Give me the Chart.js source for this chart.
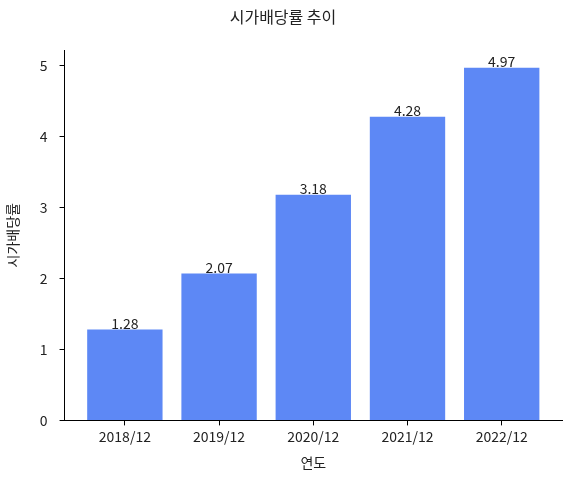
<!DOCTYPE html>
<html><head><meta charset="utf-8">
<script src="https://cdn.jsdelivr.net/npm/chart.js@4"></script>
<style>html,body{margin:0;padding:0;background:#fff}canvas{display:block}</style>
</head><body>
<canvas id="c" width="570" height="479"></canvas>
<script>
const categories = ['2018/12','2019/12','2020/12','2021/12','2022/12'];
const values = [1.28, 2.07, 3.18, 4.28, 4.97];
const yTicks = [0,1,2,3,4,5];
const FONT = "'Noto Sans CJK KR','Noto Sans',sans-serif";
const barColor = '#5d88f5';

const labelPlugin = {
  id: 'barLabels',
  afterDatasetsDraw(chart) {
    const ctx = chart.ctx;
    const meta = chart.getDatasetMeta(0);
    ctx.save();
    ctx.font = '14px ' + FONT;
    ctx.fillStyle = '#222';
    ctx.textAlign = 'center';
    ctx.textBaseline = 'alphabetic';
    meta.data.forEach((bar, i) => {
      ctx.fillText(values[i].toFixed(2), bar.x, bar.y - 1);
    });
    ctx.restore();
  }
};

new Chart(document.getElementById('c'), {
  type: 'bar',
  data: {
    datasets: [{
      data: values.map((v, i) => ({x: i, y: v})),
      backgroundColor: barColor,
      borderWidth: 0,
      barPercentage: 0.8,
      categoryPercentage: 1.0
    }]
  },
  options: {
    responsive: false,
    animation: false,
    devicePixelRatio: 1,
    layout: {padding: {left: 4, right: 8, top: 0, bottom: 8}},
    plugins: {
      legend: {display: false},
      tooltip: {enabled: false},
      title: {
        display: true,
        text: '시가배당률 추이',
        color: '#222',
        font: {family: FONT, size: 16, weight: 'normal'},
        padding: {top: 7, bottom: 24}
      }
    },
    scales: {
      x: {
        type: 'linear',
        offset: false,
        min: -0.64,
        max: 4.64,
        afterBuildTicks(scale) { scale.ticks = categories.map((c, i) => ({value: i})); },
        ticks: {
          color: '#222',
          font: {family: FONT, size: 14},
          padding: 3,
          maxRotation: 0,
          autoSkip: false,
          callback: (v) => categories[v]
        },
        grid: {offset: false, drawOnChartArea: false, drawTicks: true, tickLength: 5, color: '#000', tickColor: '#000'},
        border: {display: true, color: '#000', width: 1},
        title: {display: true, text: '연도', color: '#222', font: {family: FONT, size: 14}, padding: {top: 6, bottom: 0}}
      },
      y: {
        type: 'linear',
        min: 0,
        max: 5.2185,
        afterBuildTicks(scale) { scale.ticks = yTicks.map(v => ({value: v})); },
        ticks: {
          color: '#222',
          font: {family: FONT, size: 14},
          padding: 12,
          callback: (v) => String(v)
        },
        grid: {drawOnChartArea: false, drawTicks: true, tickLength: 5, color: '#000', tickColor: '#000'},
        border: {display: true, color: '#000', width: 1},
        title: {display: true, text: '시가배당률', color: '#222', font: {family: FONT, size: 14}, padding: {top: 0, bottom: 7}}
      }
    }
  },
  plugins: [labelPlugin]
});
</script>
</body></html>
